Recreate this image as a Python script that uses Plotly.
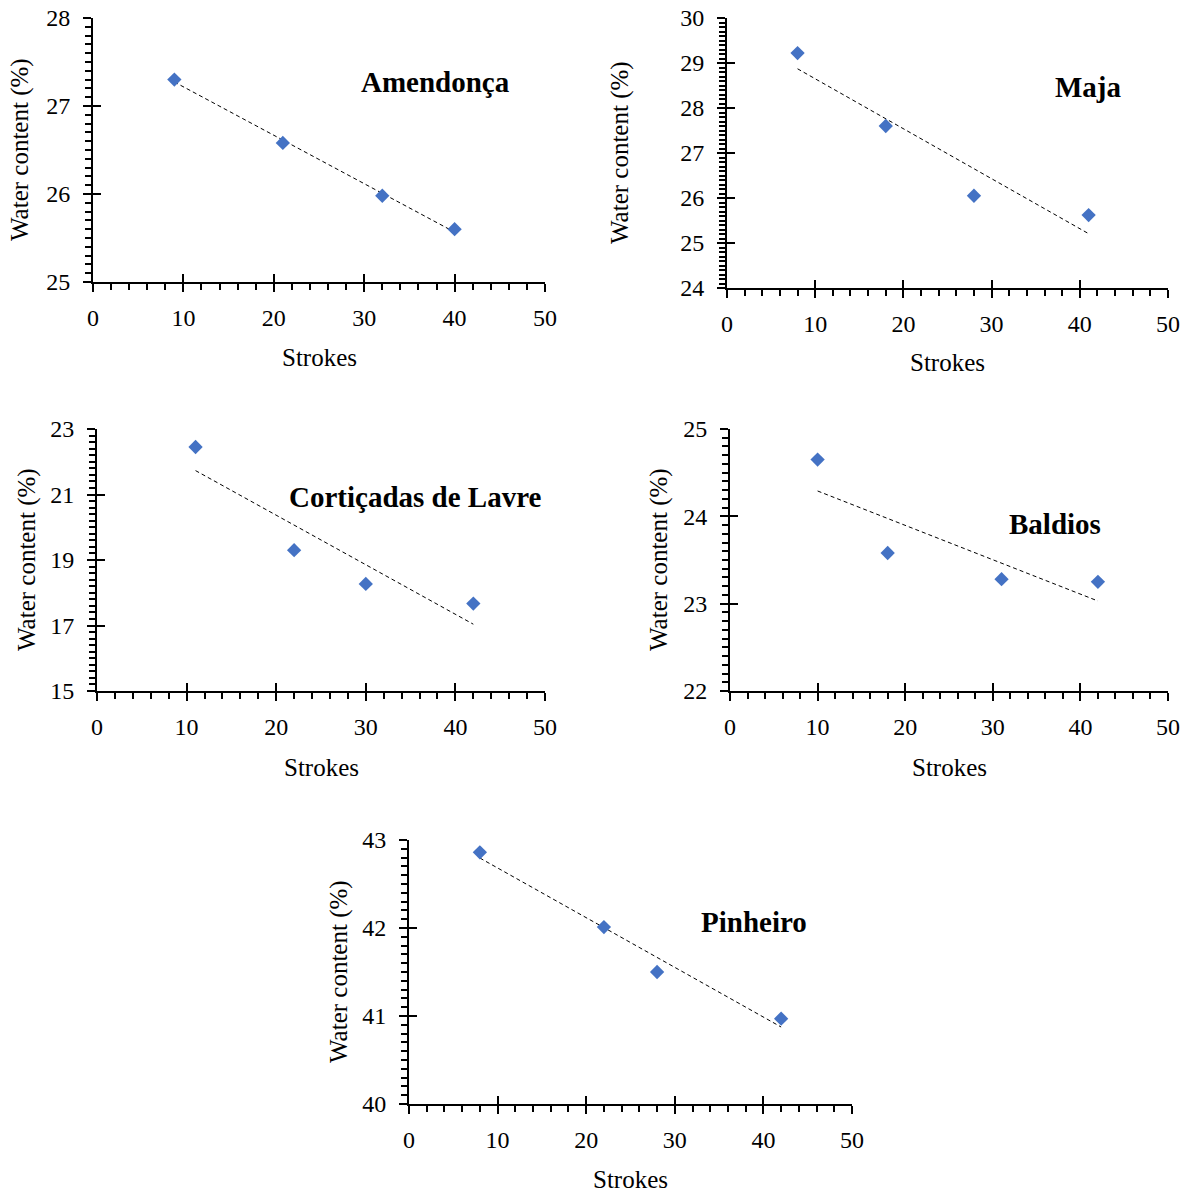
import numpy as np
import plotly.graph_objects as go

W, H = 1193, 1192

names = ["Amendonça", "Maja", "Cortiçadas de Lavre", "Baldios", "Pinheiro"]
strokes = [
    [9, 21, 32, 40],
    [8, 18, 28, 41],
    [11, 22, 30, 42],
    [10, 18, 31, 42],
    [8, 22, 28, 42],
]
water = [
    [27.30, 26.58, 25.98, 25.60],
    [29.22, 27.60, 26.05, 25.62],
    [22.45, 19.30, 18.27, 17.67],
    [24.65, 23.58, 23.28, 23.25],
    [42.86, 42.01, 41.50, 40.97],
]
y_ranges = [[25, 28], [24, 30], [15, 23], [22, 25], [40, 43]]
y_dticks = [1, 1, 2, 1, 1]
y_minor = [0.1, 0.1, 0.2, 0.1, 0.1]
x_range = [0, 50]

# plot areas in window pixels (left, right, top, bottom)
boxes = [
    (93, 545, 18, 282),
    (727, 1168, 18, 288),
    (97, 545, 429, 691),
    (730, 1168, 429, 691),
    (409, 852, 840, 1104),
]
label_pos = [(0.757, 0.758), (0.819, 0.744), (0.712, 0.740), (0.742, 0.637), (0.779, 0.689)]
ytitle_shift = [-73, -107, -70, -71, -70]
xtitle_shift = [-75, -74, -76, -76, -75]

FONT = "Liberation Serif"
fig = go.Figure()
layout = {}
annotations = []

for i in range(5):
    n = i + 1
    xa = "x" if n == 1 else f"x{n}"
    ya = "y" if n == 1 else f"y{n}"
    xo = f"x{n + 5}"
    yo = f"y{n + 5}"
    l, r, t, b = boxes[i]
    xdom = [l / W, r / W]
    ydom = [1 - b / H, 1 - t / H]

    xs = np.array(strokes[i], dtype=float)
    ys = np.array(water[i], dtype=float)
    k, c = np.polyfit(xs, ys, 1)
    tx = np.array([xs.min(), xs.max()])
    fig.add_trace(go.Scatter(x=tx, y=k * tx + c, mode="lines",
                             line=dict(color="black", width=1, dash="4px,3px"),
                             xaxis=xa, yaxis=ya, showlegend=False, hoverinfo="skip"))
    fig.add_trace(go.Scatter(x=xs, y=ys, mode="markers",
                             marker=dict(symbol="diamond", size=11, color="#4472C4"),
                             xaxis=xa, yaxis=ya, showlegend=False))
    # invisible trace for overlay axes (inside half of crossing ticks)
    fig.add_trace(go.Scatter(x=xs, y=ys, mode="markers", marker=dict(opacity=0),
                             xaxis=xo, yaxis=yo, showlegend=False, hoverinfo="skip"))

    axfont = dict(family=FONT, size=24, color="black")
    layout["xaxis" if n == 1 else f"xaxis{n}"] = dict(
        domain=xdom, range=x_range, anchor=ya, dtick=10, tick0=0, automargin=False,
        showgrid=False, zeroline=False, showline=True, linecolor="black", linewidth=2,
        ticks="outside", ticklen=8, tickwidth=2, tickcolor="black", ticklabelstandoff=5,
        minor=dict(ticks="outside", ticklen=6, tickwidth=1.5, dtick=2, tickcolor="black", showgrid=False),
        tickfont=axfont, fixedrange=True)
    layout["yaxis" if n == 1 else f"yaxis{n}"] = dict(
        domain=ydom, range=y_ranges[i], anchor=xa, dtick=y_dticks[i], tick0=y_ranges[i][0],
        automargin=False,
        showgrid=False, zeroline=False, showline=True, linecolor="black", linewidth=2,
        ticks="outside", ticklen=8, tickwidth=2, tickcolor="black", ticklabelstandoff=8,
        minor=dict(ticks="outside", ticklen=6, tickwidth=1.5, dtick=y_minor[i], tickcolor="black", showgrid=False),
        tickfont=axfont, fixedrange=True)
    layout[f"xaxis{n + 5}"] = dict(
        domain=xdom, range=x_range, anchor=yo, overlaying=xa, side="bottom", dtick=10, tick0=0,
        automargin=False,
        showgrid=False, zeroline=False, showline=False, showticklabels=False,
        ticks="inside", ticklen=8, tickwidth=2, tickcolor="black", fixedrange=True)
    layout[f"yaxis{n + 5}"] = dict(
        domain=ydom, range=y_ranges[i], anchor=xo, overlaying=ya, side="left",
        dtick=y_dticks[i], tick0=y_ranges[i][0], automargin=False,
        showgrid=False, zeroline=False, showline=False, showticklabels=False,
        ticks="inside", ticklen=8, tickwidth=2, tickcolor="black", fixedrange=True)

    dref_x = "x domain" if n == 1 else f"x{n} domain"
    dref_y = "y domain" if n == 1 else f"y{n} domain"
    annotations.append(dict(text=f"<b>{names[i]}</b>", xref=dref_x, yref=dref_y,
                            x=label_pos[i][0], y=label_pos[i][1], xanchor="center", yanchor="middle",
                            showarrow=False, font=dict(family=FONT, size=29, color="black")))
    annotations.append(dict(text="Strokes", xref=dref_x, yref=dref_y, x=0.5, y=0,
                            xanchor="center", yanchor="middle",
                            yshift=xtitle_shift[i], showarrow=False,
                            font=dict(family=FONT, size=25, color="black")))
    annotations.append(dict(text="Water content (%)", xref=dref_x, yref=dref_y, x=0, y=0.5,
                            xanchor="center", yanchor="middle",
                            xshift=ytitle_shift[i], textangle=-90, showarrow=False,
                            font=dict(family=FONT, size=25, color="black")))

fig.update_layout(**layout)
fig.update_layout(annotations=annotations, width=W, height=H,
                  margin=dict(l=0, r=0, t=0, b=0, autoexpand=False),
                  paper_bgcolor="white", plot_bgcolor="white", showlegend=False)
fig.write_html("out.html")
